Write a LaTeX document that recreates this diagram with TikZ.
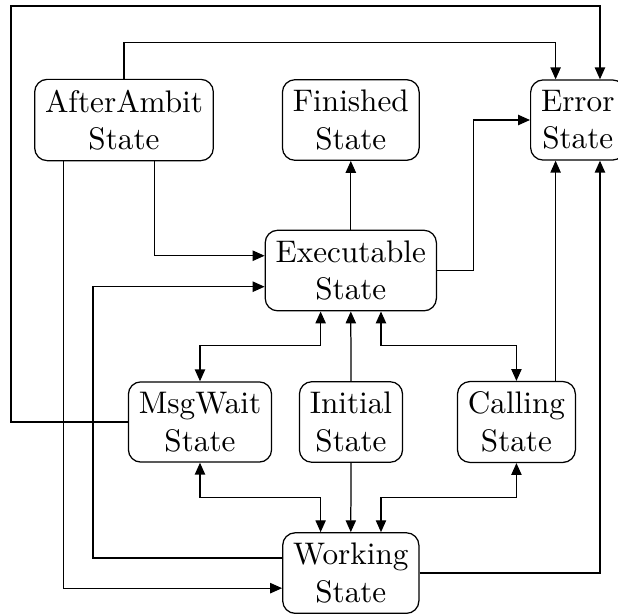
\documentclass[tikz,border=0pt]{standalone}
\usepackage{tikz}
\usetikzlibrary{arrows.meta}

\tikzset{
  state/.style={draw, rounded corners, align=center},
  arr/.style={-{Triangle[length=3.8pt,width=3.3pt]}},
  biarr/.style={{Triangle[length=3.8pt,width=3.3pt]}-{Triangle[length=3.8pt,width=3.3pt]}}
}

\begin{document}
\begin{tikzpicture}
        \useasboundingbox (0,0) rectangle (6.962,6.906);

        \node[state] (afterambit) at (1.397,5.554) {AfterAmbit\\State};
        \node[state] (finished) at (3.952,5.554) {Finished\\State};
        \node[state] (error) at (6.509,5.554) {Error\\State};
        \node[state] (executable) at (3.952,3.858) {Executable\\State};
        \node[state] (msgwait) at (2.253,2.152) {MsgWait\\State};
        \node[state] (initial) at (3.954,2.152) {Initial\\State};
        \node[state] (calling) at (5.818,2.152) {Calling\\State};
        \node[state] (working) at (3.952,0.450) {Working\\State};

        \coordinate (railtop) at (0.124,6.838);
        \coordinate (errorleft) at ([xshift=-0.25cm]error.south);

        % around the outside
        \draw[arr] (msgwait.west) -| (railtop) -| ([xshift=0.25cm]error.north);
        \draw[arr] (afterambit.north) -- ++(0,0.41) -| ([xshift=-0.25cm]error.north);

        % from AfterAmbit
        \draw[arr] ([xshift=0.343cm]afterambit.south) |- ([yshift=0.167cm]executable.west);
        \draw[arr] ([xshift=-0.684cm]afterambit.south) |- ([yshift=-0.17cm]working.west);

        % Executable
        \draw[arr] (executable.north) -- (finished.south);
        \draw[arr] (executable.east) -- ++(0.41,0) |- (error.west);
        \draw[arr] (initial.north) -- (executable.south);
        \draw[biarr] (msgwait.north) -- ++(0,0.40) -| ([xshift=-0.34cm]executable.south);
        \draw[biarr] (calling.north) -- ++(0,0.40) -| ([xshift=0.34cm]executable.south);

        % Working
        \draw[arr] (initial.south) -- (working.north);
        \draw[biarr] (msgwait.south) -- ++(0,-0.39) -| ([xshift=-0.34cm]working.north);
        \draw[biarr] (calling.south) -- ++(0,-0.39) -| ([xshift=0.34cm]working.north);
        \draw[arr] ([yshift=0.17cm]working.west) -- ++(-2.13,0) |- ([yshift=-0.182cm]executable.west);
        \draw[arr] (working.east) -| ([xshift=0.25cm]error.south);

        % into Error from Calling
        \draw[arr] (errorleft |- calling.north) -- (errorleft);
\end{tikzpicture}
\end{document}
